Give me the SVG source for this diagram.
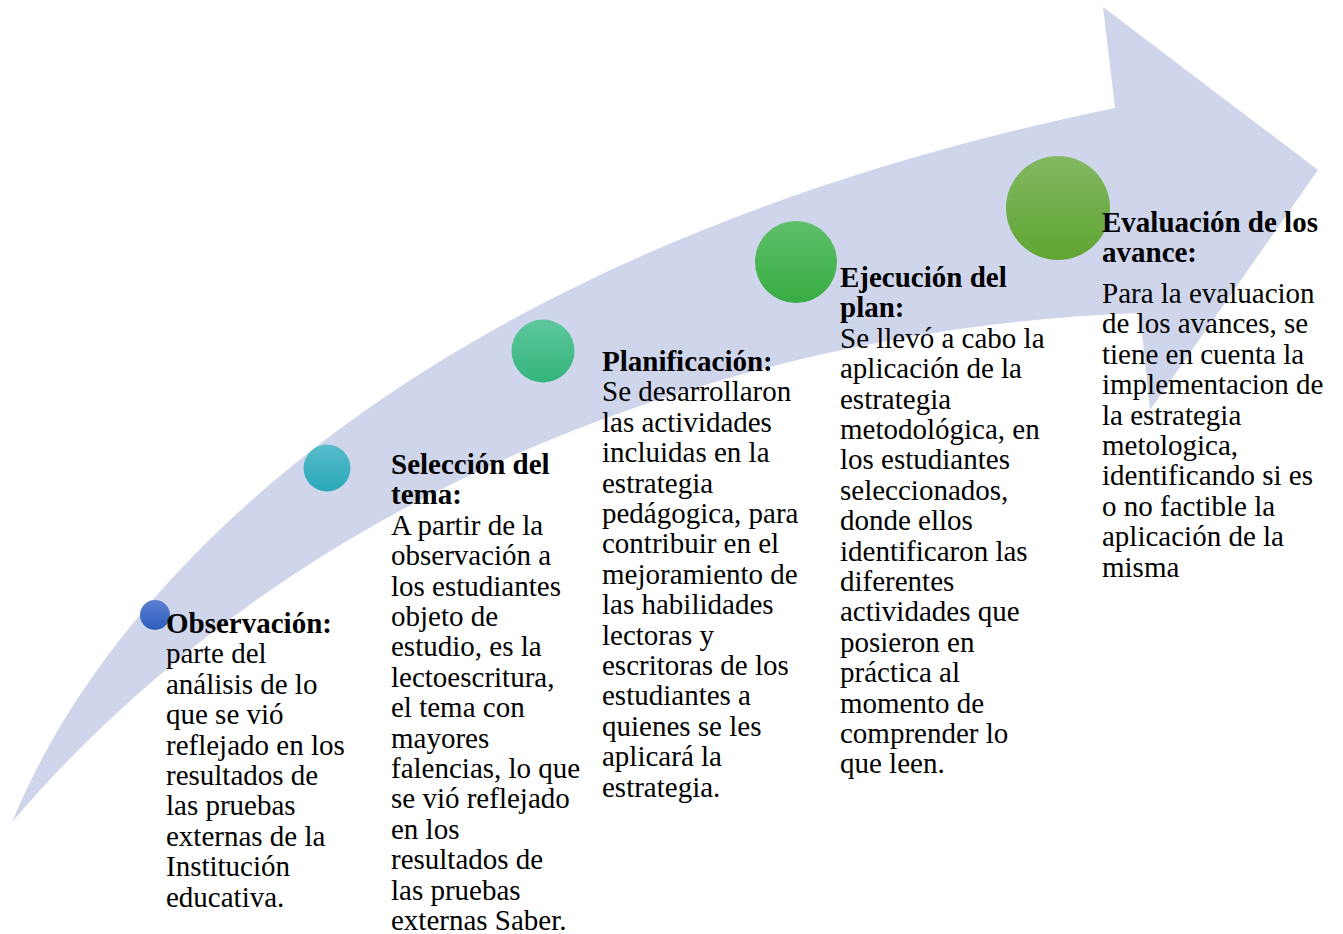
<svg xmlns="http://www.w3.org/2000/svg" width="1343" height="934" viewBox="0 0 1343 934">
<style>
text{font-family:"Liberation Serif","Times New Roman",serif;font-size:29px;fill:#000}
.h{font-weight:bold}
.arrow{fill:#cfd5ea}
</style>
<defs>
<linearGradient id="g1" x1="0" y1="0" x2="0" y2="1"><stop offset="0" stop-color="#5a80d2"/><stop offset="1" stop-color="#2f5cbc"/></linearGradient>
<linearGradient id="g2" x1="0" y1="0" x2="0" y2="1"><stop offset="0" stop-color="#58bccb"/><stop offset="1" stop-color="#2aa7b9"/></linearGradient>
<linearGradient id="g3" x1="0" y1="0" x2="0" y2="1"><stop offset="0" stop-color="#5ec89c"/><stop offset="1" stop-color="#33b47c"/></linearGradient>
<linearGradient id="g4" x1="0" y1="0" x2="0" y2="1"><stop offset="0" stop-color="#5fc06a"/><stop offset="1" stop-color="#37ac42"/></linearGradient>
<linearGradient id="g5" x1="0" y1="0" x2="0" y2="1"><stop offset="0" stop-color="#82b862"/><stop offset="1" stop-color="#60a532"/></linearGradient>
</defs>
<g id="arrow">
<path class="arrow" d="M12,822 C120,560 450,245 1115,108 L1103,7 L1318,170 L1150,410 L1140,313 C800,325 330,450 12,822 Z"/>
</g>
<g id="connectors"></g>
<g id="observacion">
<circle cx="155" cy="615" r="15" fill="url(#g1)"/>
<text class="h" x="166" y="633">Observación:</text>
<text x="166" y="663.4">parte del</text>
<text x="166" y="693.8">análisis de lo</text>
<text x="166" y="724.2">que se vió</text>
<text x="166" y="754.6">reflejado en los</text>
<text x="166" y="785">resultados de</text>
<text x="166" y="815.4">las pruebas</text>
<text x="166" y="845.8">externas de la</text>
<text x="166" y="876.2">Institución</text>
<text x="166" y="906.6">educativa.</text>
</g>
<g id="seleccion">
<circle cx="327" cy="468" r="23.5" fill="url(#g2)"/>
<text class="h" x="391" y="474">Selección del</text>
<text class="h" x="391" y="504.4">tema:</text>
<text x="391" y="534.8">A partir de la</text>
<text x="391" y="565.2">observación a</text>
<text x="391" y="595.6">los estudiantes</text>
<text x="391" y="626">objeto de</text>
<text x="391" y="656.4">estudio, es la</text>
<text x="391" y="686.8">lectoescritura,</text>
<text x="391" y="717.2">el tema con</text>
<text x="391" y="747.6">mayores</text>
<text x="391" y="778">falencias, lo que</text>
<text x="391" y="808.4">se vió reflejado</text>
<text x="391" y="838.8">en los</text>
<text x="391" y="869.2">resultados de</text>
<text x="391" y="899.6">las pruebas</text>
<text x="391" y="930">externas Saber.</text>
</g>
<g id="planificacion">
<circle cx="543" cy="351" r="31.5" fill="url(#g3)"/>
<text class="h" x="602" y="371">Planificación:</text>
<text x="602" y="401.4">Se desarrollaron</text>
<text x="602" y="431.8">las actividades</text>
<text x="602" y="462.2">incluidas en la</text>
<text x="602" y="492.6">estrategia</text>
<text x="602" y="523">pedágogica, para</text>
<text x="602" y="553.4">contribuir en el</text>
<text x="602" y="583.8">mejoramiento de</text>
<text x="602" y="614.2">las habilidades</text>
<text x="602" y="644.6">lectoras y</text>
<text x="602" y="675">escritoras de los</text>
<text x="602" y="705.4">estudiantes a</text>
<text x="602" y="735.8">quienes se les</text>
<text x="602" y="766.2">aplicará la</text>
<text x="602" y="796.6">estrategia.</text>
</g>
<g id="ejecucion">
<circle cx="796" cy="262" r="41" fill="url(#g4)"/>
<text class="h" x="840" y="287">Ejecución del</text>
<text class="h" x="840" y="317.4">plan:</text>
<text x="840" y="347.8">Se llevó a cabo la</text>
<text x="840" y="378.2">aplicación de la</text>
<text x="840" y="408.6">estrategia</text>
<text x="840" y="439">metodológica, en</text>
<text x="840" y="469.4">los estudiantes</text>
<text x="840" y="499.8">seleccionados,</text>
<text x="840" y="530.2">donde ellos</text>
<text x="840" y="560.6">identificaron las</text>
<text x="840" y="591">diferentes</text>
<text x="840" y="621.4">actividades que</text>
<text x="840" y="651.8">posieron en</text>
<text x="840" y="682.2">práctica al</text>
<text x="840" y="712.6">momento de</text>
<text x="840" y="743">comprender lo</text>
<text x="840" y="773.4">que leen.</text>
</g>
<g id="evaluacion">
<circle cx="1058" cy="208" r="52" fill="url(#g5)"/>
<text class="h" x="1102" y="232">Evaluación de los</text>
<text class="h" x="1102" y="262.4">avance:</text>
<text x="1102" y="303">Para la evaluacion</text>
<text x="1102" y="333.4">de los avances, se</text>
<text x="1102" y="363.8">tiene en cuenta la</text>
<text x="1102" y="394.2">implementacion de</text>
<text x="1102" y="424.6">la estrategia</text>
<text x="1102" y="455">metologica,</text>
<text x="1102" y="485.4">identificando si es</text>
<text x="1102" y="515.8">o no factible la</text>
<text x="1102" y="546.2">aplicación de la</text>
<text x="1102" y="576.6">misma</text>
</g>
</svg>
